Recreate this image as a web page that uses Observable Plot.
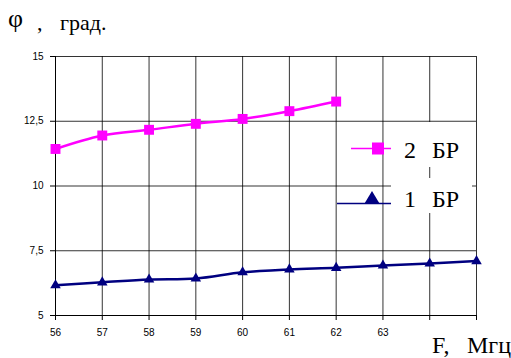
<!DOCTYPE html>
<html>
<head>
<meta charset="utf-8">
<script src="https://cdn.jsdelivr.net/npm/d3@7"></script>
<script src="https://cdn.jsdelivr.net/npm/@observablehq/plot@0.6"></script>
<style>
  html, body { margin: 0; padding: 0; background: #fff; }
  #wrap { position: relative; width: 511px; height: 358px; overflow: hidden; }
  #overlay { position: absolute; left: 0; top: 0; pointer-events: none; }
  .lbl { position: absolute; font-family: 'Liberation Serif', 'Times New Roman', serif !important; line-height: 1; color: #000; white-space: pre; margin: 0; padding: 0; }
</style>
</head>
<body>
<div id="wrap"></div>
<script>
// Frequencies (МГц)
const freq = [56, 57, 58, 59, 60, 61, 62, 63, 64, 65];
// Series "2 БР" (magenta, squares) – measured only up to 62 MHz
const br2 = [11.43, 11.95, 12.17, 12.40, 12.59, 12.89, 13.26];
// Series "1 БР" (navy, triangles)
const br1 = [6.17, 6.28, 6.39, 6.43, 6.67, 6.78, 6.84, 6.93, 7.01, 7.10];
// Axis ticks
const xTicks = [56, 57, 58, 59, 60, 61, 62, 63, 64, 65];
const xLabels = ["56", "57", "58", "59", "60", "61", "62", "63", "", ""];
const yTicks = [5, 7.5, 10, 12.5, 15];
const yLabels = ["5", "7,5", "10", "12,5", "15"];

const s2 = br2.map((v, i) => ({x: freq[i], y: v}));
const s1 = br1.map((v, i) => ({x: freq[i], y: v}));

const SANS = "Liberation Sans";

const chart = Plot.plot({
  width: 511,
  height: 358,
  marginLeft: 55,
  marginRight: 35,
  marginTop: 56,
  marginBottom: 43,
  x: {domain: [56, 65]},
  y: {domain: [5, 15]},
  marks: [
    Plot.gridX(xTicks, {stroke: "#000", strokeOpacity: 0.8, strokeWidth: 1}),
    Plot.gridY(yTicks, {stroke: "#000", strokeOpacity: 0.8, strokeWidth: 1}),
    Plot.ruleX([56], {stroke: "#000"}),
    Plot.ruleY([5], {stroke: "#000"}),
    Plot.axisY({ticks: yTicks, tickFormat: (d) => yLabels[yTicks.indexOf(d)], tickSize: 5, tickPadding: 7, label: null, fontFamily: SANS, fontSize: 10}),
    Plot.axisX({ticks: xTicks, tickFormat: (d) => xLabels[xTicks.indexOf(d)], tickSize: 5, tickPadding: 8, label: null, fontFamily: SANS, fontSize: 10}),
    Plot.line(s2, {x: "x", y: "y", stroke: "#FF00FF", strokeWidth: 2.5, curve: "catmull-rom"}),
    Plot.dot(s2, {x: "x", y: "y", symbol: "square", r: 5.6, fill: "#FF00FF", stroke: "none"}),
    Plot.line(s1, {x: "x", y: "y", stroke: "#000080", strokeWidth: 2.5, curve: "catmull-rom"}),
    Plot.dot(s1, {x: "x", y: "y", symbol: "triangle", r: 3.9, fill: "#000080", stroke: "none"})
  ]
});

const wrap = document.getElementById("wrap");
wrap.appendChild(chart);

// Legend symbols overlay
const ns = "http://www.w3.org/2000/svg";
const ov = document.createElementNS(ns, "svg");
ov.setAttribute("id", "overlay");
ov.setAttribute("width", 511);
ov.setAttribute("height", 358);
ov.innerHTML = `
  <rect x="391" y="122" width="81" height="45" fill="#fff"/>
  <rect x="391" y="178" width="81" height="35" fill="#fff"/>
  <line x1="351" x2="391" y1="148.5" y2="148.5" stroke="#FF00FF" stroke-width="1.5"/>
  <rect x="372" y="142.5" width="12" height="12" fill="#FF00FF"/>
  <line x1="337" x2="391" y1="203.5" y2="203.5" stroke="#000080" stroke-width="1.5"/>
  <polygon points="364.5,203.5 379.5,203.5 372,191" fill="#000080"/>
`;
wrap.appendChild(ov);

// Text labels (HTML, serif), positioned by baseline
function label(text, x, baseline, size) {
  const d = document.createElement("div");
  d.className = "lbl";
  d.textContent = text;
  d.style.fontSize = size + "px";
  d.style.left = x + "px";
  d.style.top = (baseline - 0.8375 * size) + "px";
  wrap.appendChild(d);
}
label("φ", 8, 28, 26);
label(",", 37, 30, 22);
label("град.", 60, 30, 22);
label("F,", 432, 353, 24);
label("Мгц", 467, 353, 24);
label("2", 404, 158, 24);
label("БР", 432, 158, 24);
label("1", 404, 207, 24);
label("БР", 432, 207, 24);
</script>
</body>
</html>
